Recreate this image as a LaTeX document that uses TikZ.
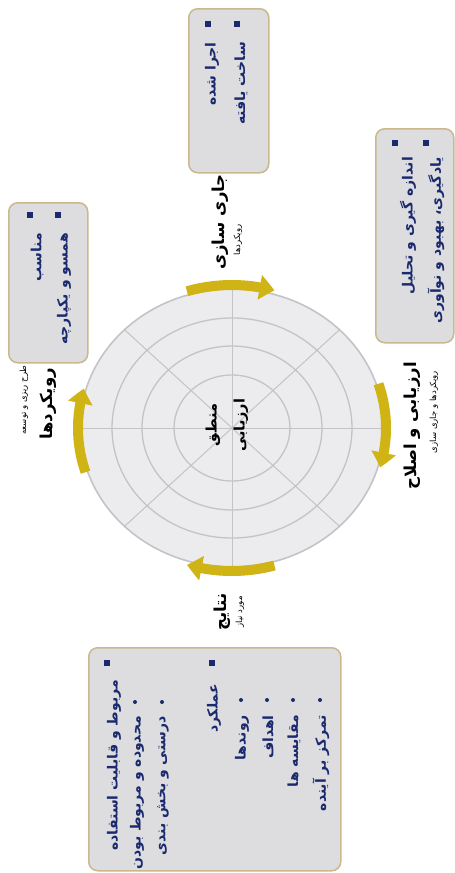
\documentclass[tikz,border=0pt]{standalone}
\usepackage{fontspec}
\newfontfamily\arabicfont[Script=Arabic]{DejaVu Sans}
\TeXXeTstate=1
\usetikzlibrary{arrows.meta,bending,calc}
\definecolor{navy}{RGB}{27,42,110}
\definecolor{boxfill}{RGB}{221,221,223}
\definecolor{boxline}{RGB}{201,185,140}
\definecolor{gold}{RGB}{208,180,22}
\definecolor{ringline}{RGB}{195,195,200}
\definecolor{discfill}{RGB}{236,236,239}
\begin{document}
\begin{tikzpicture}[x=1pt,y=-1pt,
  pbox/.style={draw=boxline, line width=1.5pt, fill=boxfill, rounded corners=9pt, anchor=north west, inner sep=0pt},
  btxt/.style={rotate=90, anchor=east, inner sep=0pt, text=navy, font=\arabicfont\bfseries\fontsize{14}{16}\selectfont},
  sq/.style={fill=navy, inner sep=0pt, minimum size=6pt, draw=none},
  dt/.style={circle, fill=navy, inner sep=0pt, minimum size=4pt},
  lbl/.style={rotate=90, inner sep=0pt, font=\arabicfont\bfseries\fontsize{16.5}{19}\selectfont},
  slbl/.style={rotate=90, inner sep=0pt, font=\arabicfont\fontsize{8.5}{9}\selectfont},
  ctr/.style={rotate=90, inner sep=0pt, font=\arabicfont\bfseries\fontsize{14.5}{16}\selectfont},
  swoosh/.style={draw=gold, line width=10pt, -{Triangle[width=24pt,length=15pt,bend]}},
  ring/.style={draw=ringline, line width=1.3pt}
]
\useasboundingbox (0,0) rectangle (455,873);
\fill[white] (0,0) rectangle (455,873);
\coordinate (c) at (232,428);
% disc
\fill[discfill] (c) ellipse [x radius=152, y radius=139];
\draw[ring, line width=1.6pt] (c) ellipse [x radius=152, y radius=139];
\draw[ring] (c) ellipse [x radius=120, y radius=110];
\draw[ring] (c) ellipse [x radius=90, y radius=82];
\draw[ring] (c) ellipse [x radius=58, y radius=53];
\foreach \a in {0,45,...,315} {\draw[ring, line width=1pt] (c) -- ($(c)+(\a:152 and 139)$);}
% arrows
\draw[swoosh] ($(c)+(253:154 and 143)$) arc[start angle=253, end angle=286, x radius=154, y radius=143];
\draw[swoosh] ($(c)+(-18:154 and 143)$) arc[start angle=-18, end angle=16, x radius=154, y radius=143];
\draw[swoosh] ($(c)+(74:154 and 143)$) arc[start angle=74, end angle=107, x radius=154, y radius=143];
\draw[swoosh] ($(c)+(162:154 and 143)$) arc[start angle=162, end angle=196, x radius=154, y radius=143];
% center
\node[ctr] (C1) at (213,425) {\beginR منطق\endR};
\node[ctr] (C2) at (241,425) {\beginR ارزیابی\endR};
% labels
\node[lbl] (Ltop) at (220,222) {\beginR جاری سازی\endR};
\node[slbl] (Stop) at (238,240) {\beginR رویکردها\endR};
\node[lbl] (Lright) at (412,426) {\beginR ارزیابی و اصلاح\endR};
\node[slbl] (Sright) at (434,412) {\beginR رویکردها و جاری سازی\endR};
\node[lbl] (Lbot) at (222,612) {\beginR نتایج\endR};
\node[slbl] (Sbot) at (240,612) {\beginR مورد نیاز\endR};
\node[slbl] (Sleft) at (24,400) {\beginR طرح ریزی و توسعه\endR};
\node[lbl] (Lleft) at (48,404) {\beginR رویکردها\endR};
% top-middle box
\node[pbox, minimum width=80pt, minimum height=164pt] (boxA) at (188,8) {};
\node[sq] (bA1) at (208,24) {};
\node[sq] (bA2) at (237,24) {};
\node[btxt] (tA1) at (212,42) {\beginR اجرا شده\endR};
\node[btxt] (tA2) at (241,42) {\beginR ساخت یافته\endR};
% right box
\node[pbox, minimum width=78pt, minimum height=214pt] (boxB) at (375,128) {};
\node[sq] (bB1) at (395,143) {};
\node[sq] (bB2) at (426,143) {};
\node[btxt] (tB1) at (408,157) {\beginR اندازه گیری و تحلیل\endR};
\node[btxt] (tB2) at (436,157) {\beginR یادگیری، بهبود و نوآوری\endR};
% left box
\node[pbox, minimum width=79pt, minimum height=160pt] (boxC) at (8,202) {};
\node[sq] (bC1) at (30,215) {};
\node[sq] (bC2) at (58,215) {};
\node[btxt] (tC1) at (37,233) {\beginR مناسب\endR};
\node[btxt] (tC2) at (64,233) {\beginR همسو و یکپارچه\endR};
% big box
\node[pbox, minimum width=252pt, minimum height=223pt] (boxD) at (88,647) {};
\node[sq] (bD1) at (107,663) {};
\node[btxt] (tD1) at (114,680) {\beginR مربوط و قابلیت استفاده\endR};
\node[dt] (dD1) at (135,702) {};
\node[btxt] (tD2) at (137,716) {\beginR محدوده و مربوط بودن\endR};
\node[dt] (dD2) at (162,702) {};
\node[btxt] (tD3) at (163,716) {\beginR درستی و بخش بندی\endR};
\node[sq] (bD2) at (212,663) {};
\node[btxt] (tD4) at (214,684) {\beginR عملکرد\endR};
\node[dt] (dD3) at (241,700) {};
\node[btxt] (tD5) at (242,715) {\beginR روندها\endR};
\node[dt] (dD4) at (267,700) {};
\node[btxt] (tD6) at (268,715) {\beginR اهداف\endR};
\node[dt] (dD5) at (293,700) {};
\node[btxt] (tD7) at (294,715) {\beginR مقایسه ها\endR};
\node[dt] (dD6) at (320,700) {};
\node[btxt] (tD8) at (321,715) {\beginR تمرکز بر آینده\endR};
\end{tikzpicture}
\end{document}
